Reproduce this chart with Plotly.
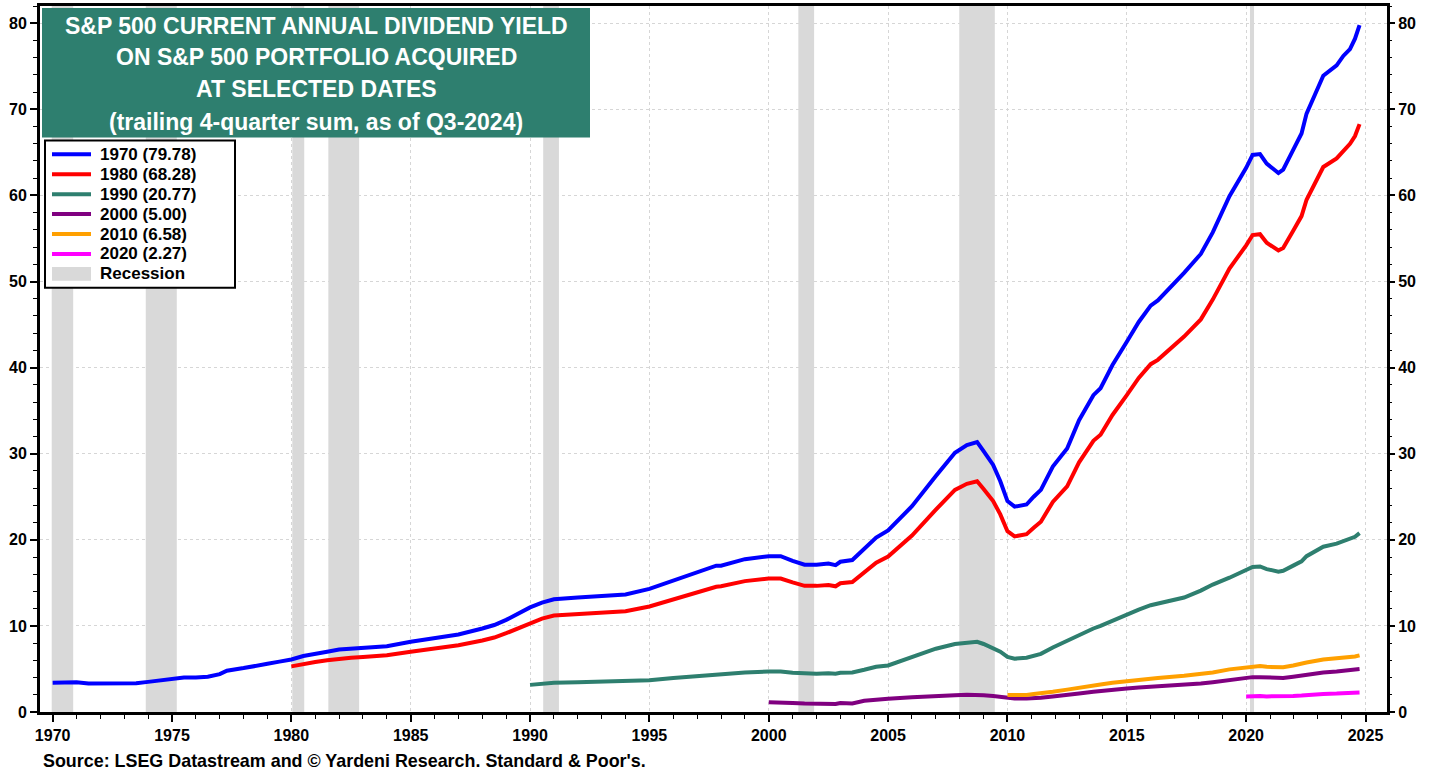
import plotly.graph_objects as go

# ---------------- data ----------------
DATES = [1970.0, 1970.5, 1971.0, 1971.5, 1972.0, 1972.5, 1973.0, 1973.5, 1974.0, 1974.5,
         1975.0, 1975.5, 1976.0, 1976.5, 1977.0, 1977.3, 1978.0, 1978.5, 1979.0, 1979.5,
         1980.0, 1980.5, 1981.0, 1981.5, 1982.0, 1982.5, 1983.0, 1984.0, 1985.0, 1986.0,
         1987.0, 1988.0, 1988.5, 1989.0, 1989.5, 1990.0, 1990.5, 1991.0, 1992.0, 1993.0,
         1994.0, 1995.0, 1996.0, 1997.0, 1997.8, 1998.0, 1999.0, 2000.0, 2000.5, 2001.0,
         2001.5, 2002.0, 2002.5, 2002.8, 2003.0, 2003.5, 2004.0, 2004.5, 2005.0, 2006.0,
         2007.0, 2007.8, 2008.3, 2008.73, 2009.0, 2009.4, 2009.7, 2010.0, 2010.3, 2010.8,
         2011.1, 2011.4, 2011.9, 2012.5, 2013.0, 2013.6, 2013.9, 2014.4, 2015.0, 2015.5,
         2016.0, 2016.3, 2017.4, 2018.1, 2018.6, 2019.3, 2020.0, 2020.27, 2020.58, 2020.86,
         2021.35, 2021.55, 2021.97, 2022.32, 2022.53, 2023.23, 2023.79, 2024.07, 2024.35, 2024.56,
         2024.75]

Y1970 = [3.4, 3.45, 3.45, 3.3, 3.3, 3.3, 3.3, 3.35, 3.5, 3.65,
         3.9, 4.0, 4.0, 4.1, 4.4, 4.8, 5.1, 5.4, 5.6, 5.85,
         6.1, 6.5, 6.8, 7.0, 7.25, 7.35, 7.45, 7.65, 8.15, 8.6,
         9.0, 9.7, 10.1, 10.7, 11.4, 12.15, 12.7, 13.1, 13.3, 13.5,
         13.65, 14.3, 15.3, 16.3, 17.0, 17.0, 17.75, 18.1, 18.1, 17.55,
         17.1, 17.1, 17.25, 17.05, 17.45, 17.65, 18.9, 20.25, 21.1, 23.9,
         27.4, 30.1, 31.0, 31.35, 30.3, 28.7, 26.8, 24.5, 23.85, 24.1,
         25.0, 25.8, 28.5, 30.6, 33.9, 36.8, 37.6, 40.3, 43.0, 45.3,
         47.2, 47.8, 51.0, 53.2, 55.7, 59.9, 63.2, 64.7, 64.8, 63.7,
         62.6, 63.0, 65.3, 67.2, 69.5, 73.9, 75.1, 76.2, 77.0, 78.2,
         79.78]

Y1980 = [5.3, 5.6, 5.8, 6.0, 6.2, 6.3, 6.4, 6.6, 7.0, 7.35,
         7.75, 8.3, 8.65, 9.15, 9.75, 10.3, 10.85, 11.2, 11.4, 11.55,
         11.7, 12.25, 13.1, 13.95, 14.55, 14.6, 15.2, 15.5, 15.5, 15.05,
         14.65, 14.65, 14.75, 14.6, 14.95, 15.1, 16.2, 17.35, 18.05, 20.5,
         23.5, 25.8, 26.5, 26.8, 25.9, 24.5, 22.95, 21.0, 20.4, 20.65,
         21.4, 22.1, 24.4, 26.2, 29.0, 31.5, 32.2, 34.5, 36.8, 38.8,
         40.4, 40.9, 43.6, 45.6, 47.9, 51.5, 54.2, 55.4, 55.5, 54.5,
         53.6, 53.9, 55.9, 57.6, 59.5, 63.3, 64.3, 65.2, 66.0, 66.9,
         68.28]

Y1990 = [3.15, 3.3, 3.4, 3.45, 3.5,
         3.55, 3.7, 3.95, 4.2, 4.4, 4.4, 4.6, 4.7, 4.7, 4.55,
         4.45, 4.45, 4.5, 4.45, 4.55, 4.6, 4.9, 5.25, 5.4, 6.4,
         7.35, 7.9, 8.05, 8.15, 7.9, 7.45, 7.0, 6.4, 6.2, 6.3,
         6.5, 6.75, 7.5, 8.3, 9.0, 9.7, 10.0, 10.6, 11.35, 11.9,
         12.4, 12.6, 13.3, 14.1, 14.8, 15.6, 16.5, 16.85, 16.9, 16.6,
         16.3, 16.4, 17.0, 17.5, 18.1, 19.2, 19.55, 19.8, 20.05, 20.35,
         20.77]

Y2000 = [1.12, 1.12, 1.05,
         0.98, 0.95, 0.95, 0.93, 1.05, 1.0, 1.3, 1.45, 1.55, 1.7,
         1.9, 1.95, 2.0, 2.0, 1.95, 1.85, 1.75, 1.62, 1.58, 1.58,
         1.6, 1.65, 1.8, 1.95, 2.15, 2.35, 2.45, 2.6, 2.72, 2.85,
         2.92, 2.97, 3.15, 3.3, 3.45, 3.75, 4.0, 4.05, 4.05, 4.0,
         3.95, 3.95, 4.1, 4.25, 4.4, 4.6, 4.7, 4.78, 4.83, 4.9,
         5.0]

Y2010 = [1.98, 1.96, 1.98,
         2.08, 2.15, 2.35, 2.6, 2.85, 3.1, 3.2, 3.4, 3.6, 3.78,
         3.9, 3.95, 4.2, 4.4, 4.6, 4.95, 5.2, 5.33, 5.35, 5.25,
         5.17, 5.2, 5.4, 5.55, 5.75, 6.1, 6.2, 6.3, 6.36, 6.45,
         6.58]

Y2020 = [1.8, 1.84, 1.85, 1.81,
         1.78, 1.79, 1.86, 1.91, 1.98, 2.1, 2.14, 2.17, 2.19, 2.22,
         2.27]

SERIES_NAMES = ["1970 (79.78)", "1980 (68.28)", "1990 (20.77)",
                "2000 (5.00)", "2010 (6.58)", "2020 (2.27)"]
SERIES_VALUES = [Y1970, Y1980, Y1990, Y2000, Y2010, Y2020]
SERIES_COLORS = ["#0000FF", "#FF0000", "#2E7F6F", "#800080", "#FFA000", "#FF00FF"]
RECESSION_NAME = "Recession"
RECESSION_COLOR = "#D9D9D9"

REC_START = [1969.96, 1973.9, 1980.04, 1981.55, 1990.55, 2001.24, 2007.98, 2020.16]
REC_END = [1970.86, 1975.2, 1980.54, 1982.84, 1991.21, 2001.9, 2009.47, 2020.33]

TITLE_LINES = ["S&P 500 CURRENT ANNUAL DIVIDEND YIELD",
               "ON S&P 500 PORTFOLIO ACQUIRED",
               "AT SELECTED DATES",
               "(trailing 4-quarter sum, as of Q3-2024)"]
SOURCE = "Source: LSEG Datastream and \u00a9 Yardeni Research. Standard & Poor's."

X_RANGE = [1969.47, 2025.9]
Y_RANGE = [0, 82.0]

FONT = "Liberation Sans, Arial, sans-serif"
BOX_COLOR = "#2E7F6F"

# ---------------- figure ----------------
fig = go.Figure()

# recession bands as one filled polygon trace
rx, ry = [], []
for s, e in zip(REC_START, REC_END):
    rx += [s, e, e, s, s, None]
    ry += [Y_RANGE[0], Y_RANGE[0], Y_RANGE[1], Y_RANGE[1], Y_RANGE[0], None]
fig.add_trace(go.Scatter(x=rx, y=ry, mode="lines", fill="toself",
                         fillcolor=RECESSION_COLOR, line=dict(width=0, color=RECESSION_COLOR),
                         name=RECESSION_NAME, hoverinfo="skip", showlegend=False))

for name, vals, col in zip(SERIES_NAMES, SERIES_VALUES, SERIES_COLORS):
    xs = DATES[len(DATES) - len(vals):]
    fig.add_trace(go.Scatter(x=xs, y=vals, mode="lines", name=name,
                             line=dict(color=col, width=4), showlegend=False))

# invisible trace for the right-hand axis
fig.add_trace(go.Scatter(x=DATES, y=Y1970, yaxis="y2", mode="lines",
                         line=dict(color="rgba(0,0,0,0)"), showlegend=False,
                         hoverinfo="skip"))

L, R, T, B = 40, 52, 3, 63
W, H = 1439, 775
pw, ph = W - L - R, H - T - B


def px_x(x):
    return (x - L) / pw


def px_y(y):
    return 1 - (y - T) / ph


# title box
fig.add_shape(type="rect", xref="paper", yref="paper",
              x0=px_x(42), x1=px_x(590), y0=px_y(135), y1=px_y(5),
              fillcolor=BOX_COLOR, line=dict(width=0), layer="above")
for line, yc in zip(TITLE_LINES, [23, 54, 86, 119]):
    fig.add_annotation(text=line, xref="paper", yref="paper",
                       x=px_x(316), y=px_y(yc), xanchor="center", yanchor="middle",
                       showarrow=False,
                       font=dict(family=FONT, size=23, color="white", weight="bold"))

# legend (drawn manually)
fig.add_shape(type="rect", xref="paper", yref="paper",
              x0=px_x(45), x1=px_x(235), y0=px_y(286), y1=px_y(138),
              fillcolor="white", line=dict(width=2, color="black"), layer="above")
legend_names = SERIES_NAMES + [RECESSION_NAME]
legend_colors = SERIES_COLORS + [RECESSION_COLOR]
for i, (nm, col) in enumerate(zip(legend_names, legend_colors)):
    yc = 152 + 20 * i
    if nm == RECESSION_NAME:
        fig.add_shape(type="rect", xref="paper", yref="paper",
                      x0=px_x(52), x1=px_x(91), y0=px_y(yc + 7), y1=px_y(yc - 7),
                      fillcolor=col, line=dict(width=0), layer="above")
    else:
        fig.add_shape(type="line", xref="paper", yref="paper",
                      x0=px_x(52), x1=px_x(91), y0=px_y(yc), y1=px_y(yc),
                      line=dict(width=4, color=col), layer="above")
    fig.add_annotation(text=nm, xref="paper", yref="paper",
                       x=px_x(98), y=px_y(yc), xanchor="left", yanchor="middle",
                       showarrow=False,
                       font=dict(family=FONT, size=17, color="black", weight="bold"))

fig.add_annotation(text=SOURCE, xref="paper", yref="paper",
                   x=px_x(41), y=px_y(761), xanchor="left", yanchor="middle",
                   showarrow=False,
                   font=dict(family=FONT, size=17.9, color="black", weight="bold"))

tickfont = dict(family=FONT, size=16, color="black", weight="bold")

fig.update_layout(
    width=W, height=H,
    margin=dict(l=L, r=R, t=T, b=B, pad=0),
    paper_bgcolor="white", plot_bgcolor="white",
    showlegend=False,
    xaxis=dict(range=X_RANGE, showgrid=True, gridcolor="#D6D6D6", griddash="dot",
               gridwidth=1, tickmode="linear", tick0=1970, dtick=5,
               ticks="outside", ticklen=7, tickwidth=2, tickcolor="black",
               showline=True, linecolor="black", linewidth=3, mirror=True,
               tickfont=tickfont, zeroline=False,
               minor=dict(ticks="outside", dtick=1, tick0=1970, ticklen=4,
                          tickwidth=1, tickcolor="black", showgrid=False)),
    yaxis=dict(range=Y_RANGE, showgrid=True, gridcolor="#D6D6D6", griddash="dot",
               gridwidth=1, tickmode="linear", tick0=0, dtick=10,
               ticks="outside", ticklen=7, tickwidth=2, tickcolor="black",
               showline=True, linecolor="black", linewidth=3, mirror=True,
               tickfont=tickfont, zeroline=False,
               minor=dict(ticks="outside", dtick=2, ticklen=4, tickwidth=1,
                          tickcolor="black", showgrid=False)),
    yaxis2=dict(range=Y_RANGE, overlaying="y", side="right", showgrid=False,
                tickmode="linear", tick0=0, dtick=10,
                ticks="outside", ticklen=7, tickwidth=2, tickcolor="black",
                showline=False, tickfont=tickfont, zeroline=False,
                minor=dict(ticks="outside", dtick=2, ticklen=4, tickwidth=1,
                           tickcolor="black")),
)

fig.write_html("out.html", config={"displayModeBar": False},
               post_script="document.body.style.margin='0';")
